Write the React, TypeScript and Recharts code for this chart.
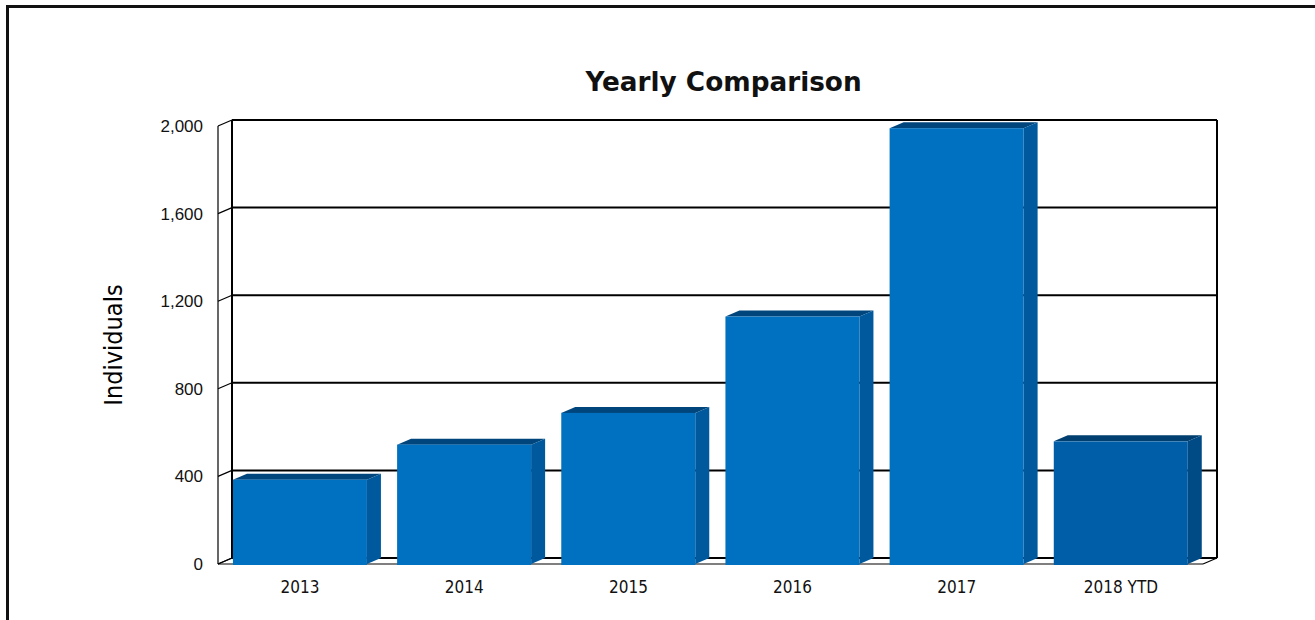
import React from 'react';
import { BarChart, Bar, XAxis, YAxis, CartesianGrid, Label } from 'recharts';

const CATEGORIES = ['2013', '2014', '2015', '2016', '2017', '2018 YTD'];
const INDIVIDUALS = [385, 545, 690, 1130, 1990, 560];
const Y_TICKS = [0, 400, 800, 1200, 1600, 2000];
const TITLE = 'Yearly Comparison';
const Y_LABEL = 'Individuals';

const data = CATEGORIES.map((year, i) => ({ year, value: INDIVIDUALS[i] }));

const DX = 14;
const DY = 6;

const COLORS = {
  front: '#0070C0',
  top: '#00467C',
  side: '#00599C',
  lastFront: '#005EA8',
  lastTop: '#003F70',
  lastSide: '#004B86',
};

const Bar3D = (props: any) => {
  const { x, y, width, height, index } = props;
  if (width == null || height == null) return null;
  const last = index === CATEGORIES.length - 1;
  const front = last ? COLORS.lastFront : COLORS.front;
  const top = last ? COLORS.lastTop : COLORS.top;
  const side = last ? COLORS.lastSide : COLORS.side;
  const topPts = `${x},${y} ${x + DX},${y - DY} ${x + width + DX},${y - DY} ${x + width},${y}`;
  const sidePts = `${x + width},${y} ${x + width + DX},${y - DY} ${x + width + DX},${y + height - DY} ${x + width},${y + height}`;
  return (
    <g>
      <polygon points={topPts} fill={top} />
      <polygon points={sidePts} fill={side} />
      <rect x={x} y={y} width={width} height={height + 1} fill={front} />
    </g>
  );
};

const renderHorizontal = (p: any) => {
  const { x1, y1, x2 } = p;
  const isFloor = p.height != null && p.y != null && Math.abs(y1 - (p.y + p.height)) < 0.5;
  return (
    <g key={`h-${y1}`}>
      <line x1={x1 + DX} y1={y1 - DY} x2={x2 + DX} y2={y1 - DY} stroke="#000" strokeWidth={2} />
      <line x1={x1} y1={y1} x2={x1 + DX} y2={y1 - DY} stroke="#000" strokeWidth={1.2} />
      {isFloor && <line x1={x1} y1={y1} x2={x2} y2={y1} stroke="#000" strokeWidth={1.2} />}
    </g>
  );
};

const renderVertical = (p: any) => {
  const { x1, y1, y2 } = p;
  return (
    <g key={`v-${x1}`}>
      <line x1={x1 + DX} y1={y1 - DY} x2={x1 + DX} y2={y2 - DY} stroke="#000" strokeWidth={2} />
      <line x1={x1} y1={y2} x2={x1 + DX} y2={y2 - DY} stroke="#000" strokeWidth={1.2} />
    </g>
  );
};

const renderYLabel = (props: any) => {
  const vb = props.viewBox || { x: 0, y: 126, width: 218, height: 438 };
  const cx = vb.x + 113;
  const cy = vb.y + vb.height / 2;
  return (
    <text
      x={cx}
      y={cy}
      transform={`rotate(-90 ${cx} ${cy})`}
      textAnchor="middle"
      dominantBaseline="central"
      fontFamily="'DejaVu Sans Condensed', 'DejaVu Sans', sans-serif"
      fontSize={25}
      fill="#000"
    >
      {Y_LABEL}
    </text>
  );
};

const formatTick = (v: number) => v.toLocaleString('en-US');

export default function App() {
  return (
    <div style={{ position: 'absolute', left: 0, top: 0, width: 1315, height: 620, overflow: 'hidden', background: '#fff' }}>
      <div
        style={{
          position: 'absolute',
          left: 6,
          top: 5,
          width: 2000,
          height: 2000,
          borderLeft: '3px solid #111',
          borderTop: '3px solid #111',
          boxSizing: 'border-box',
        }}
      />
      <div
        style={{
          position: 'absolute',
          left: 323.5,
          top: 67,
          width: 800,
          textAlign: 'center',
          fontFamily: "'DejaVu Sans', sans-serif",
          fontWeight: 'bold',
          fontSize: 26.3,
          lineHeight: '30px',
          color: '#111',
        }}
      >
        {TITLE}
      </div>
      <div style={{ position: 'absolute', left: 0, top: 0 }}>
        <BarChart
          width={1315}
          height={620}
          data={data}
          margin={{ top: 126, right: 112, bottom: 0, left: 0 }}
          barCategoryGap="9.1%"
        >
          <CartesianGrid
            horizontal={renderHorizontal}
            vertical={renderVertical}
            verticalCoordinatesGenerator={({ offset }: any) => [offset.left, offset.left + offset.width]}
            stroke="#000"
          />
          <XAxis
            dataKey="year"
            height={56}
            tickLine={false}
            tickSize={0}
            tickMargin={17}
            axisLine={false}
            tick={{ fill: '#111', fontSize: 17, fontFamily: "'DejaVu Sans Condensed', 'DejaVu Sans', sans-serif" }}
          />
          <YAxis
            width={218}
            domain={[0, 2000]}
            ticks={Y_TICKS}
            tickFormatter={formatTick}
            tickLine={false}
            tickSize={0}
            tickMargin={15}
            axisLine={{ stroke: '#000', strokeWidth: 1.2 }}
            tick={{ fill: '#111', fontSize: 17, fontFamily: "'Liberation Sans', Arial, sans-serif" }}
          >
            <Label content={renderYLabel} />
          </YAxis>
          <Bar dataKey="value" shape={<Bar3D />} isAnimationActive={false} />
        </BarChart>
      </div>
    </div>
  );
}
